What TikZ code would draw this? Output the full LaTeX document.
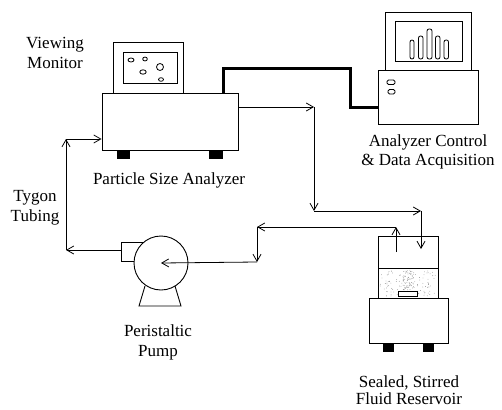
\documentclass[tikz,border=0pt]{standalone}
\usepackage{fontspec}
\setmainfont{Liberation Serif}
\usetikzlibrary{arrows.meta}
\begin{document}
\begin{tikzpicture}[x=1pt,y=-1pt,
  outline/.style={draw=black, line width=0.9pt},
  foot/.style={fill=black},
  tube/.style={draw=black, line width=0.8pt,
    -{Straight Barb[length=7pt,width=8pt,line width=0.8pt]}},
  cable/.style={draw=black, line width=3pt, line join=miter},
  lbl/.style={font=\fontsize{17}{20}\selectfont, align=center, inner sep=0pt},
  bubble/.style={draw=black, line width=0.8pt},
  bar/.style={draw=black, line width=0.8pt, rounded corners=2pt},
]
\useasboundingbox (0,0) rectangle (502,409);

% ---------- Particle size analyzer with viewing monitor ----------
\node[outline, minimum width=70pt, minimum height=51pt, inner sep=0pt] (mon) at (148,67.5) {};
\draw[outline] (123,52) rectangle (177,83);
\draw[bubble] (131,60) ellipse [x radius=3pt, y radius=2pt];
\draw[bubble] (145,59) ellipse [x radius=2.3pt, y radius=2pt];
\draw[bubble] (160,67) circle (3.5pt);
\draw[bubble] (143,72) ellipse [x radius=3.2pt, y radius=2.2pt];
\draw[bubble] (161,79.5) ellipse [x radius=2.5pt, y radius=1.8pt];
\node[outline, minimum width=136pt, minimum height=57pt, inner sep=0pt] (psa) at (170,121.5) {};
\fill (117,150) rectangle (130,159);
\fill (209,150) rectangle (223,159);

% ---------- Analyzer control & data acquisition ----------
\node[outline, minimum width=86pt, minimum height=58pt, inner sep=0pt] (daqmon) at (428,41) {};
\draw[outline] (395,21) rectangle (462,61);
\draw[bar] (410,59) rectangle (414,40);
\draw[bar] (418.5,59) rectangle (423,36);
\draw[bar] (427,59) rectangle (432,29);
\draw[bar] (435.5,59) rectangle (440,36);
\draw[bar] (444,59) rectangle (448.5,40);
\node[outline, minimum width=100pt, minimum height=54pt, inner sep=0pt] (daq) at (428,97) {};
\draw[line width=0.8pt, rounded corners=1.5pt] (387,80) rectangle (395,84.5);
\draw[line width=0.8pt, rounded corners=1.5pt] (388,89.5) rectangle (395,94);

% ---------- Peristaltic pump ----------
\draw[outline] (150,242) -- (121,242) -- (121,261) -- (150,261);
\draw[outline] (145,286) -- (139,306) -- (181,306) -- (175,286);
\node[outline, fill=white, circle, minimum size=54pt, inner sep=0pt] (pump) at (161,263) {};

% ---------- Sealed, stirred fluid reservoir ----------
% speckled fluid, denser above the stir bar
\pgfmathsetseed{4}
\foreach \i in {1,...,110}{
  \pgfmathsetmacro\px{380+56*rnd}
  \pgfmathsetmacro\py{271+25*rnd}
  \fill[black!45] (\px,\py) circle (0.4pt);
}
\foreach \i in {1,...,50}{
  \pgfmathsetmacro\px{402+12*rnd}
  \pgfmathsetmacro\py{270+20*rnd}
  \fill[black!50] (\px,\py) circle (0.4pt);
}
\node[outline, minimum width=60pt, minimum height=62pt, inner sep=0pt] (tank) at (408,267) {};
\draw[outline] (378,268) -- (438,268);
\draw[outline, fill=white] (398,291) rectangle (417,296);
\node[outline, minimum width=79pt, minimum height=45pt, inner sep=0pt] (stirrer) at (408.5,320.5) {};
\fill (383,343) rectangle (394,352);
\fill (423,343) rectangle (434,352);

% ---------- data cable ----------
\coordinate (cab-a) at (223,69);
\coordinate (cab-b) at (350,69);
\coordinate (cab-c) at (350,107);
\draw[cable] (psa.north -| cab-a) -- (cab-a) -- (cab-b) -- (cab-c) -- (cab-c -| daq.west);

% ---------- tubing ----------
\coordinate (psa-out) at (psa.east |- 0,107);
\coordinate (t1) at (314,107);
\coordinate (t2) at (314,211);
\coordinate (t3) at (421,211);
\coordinate (tank-in) at (421,249);
\coordinate (tank-out) at (396,252);
\coordinate (r1) at (396,227);
\coordinate (r2) at (257,227);
\coordinate (r3) at (257,262);
\coordinate (pump-out) at (121,250);
\coordinate (p1) at (66,250);
\coordinate (p2) at (66,139);
\coordinate (psa-in) at (psa.west |- 0,139);

\draw[tube] (psa-out) -- (t1);
\draw[tube] (t1) -- (t2);
\draw[tube] (t2) -- (t3);
\draw[tube] (t3) -- (tank-in);
\draw[tube] (tank-out) -- (r1);
\draw[tube] (r1) -- (r2);
\draw[tube] (r2) -- (r3);
\draw[tube] (r3) -- (pump.center);
\draw[tube] (pump-out) -- (p1);
\draw[tube] (p1) -- (p2);
\draw[tube] (p2) -- (psa-in);

% ---------- labels ----------
\node[lbl] (t-mon) at (55,53) {Viewing\\Monitor};
\node[lbl] (t-psa) at (169,180) {Particle Size Analyzer};
\node[lbl, font=\fontsize{17}{19}\selectfont] (t-daq) at (428,152) {Analyzer Control\\\& Data Acquisition};
\node[lbl] (t-tube) at (35,208) {Tygon\\Tubing};
\node[lbl] (t-pump) at (158,342) {Peristaltic\\Pump};
\node[lbl, font=\fontsize{17}{17}\selectfont] (t-res) at (409,390) {Sealed, Stirred\\Fluid Reservoir};
\end{tikzpicture}
\end{document}
